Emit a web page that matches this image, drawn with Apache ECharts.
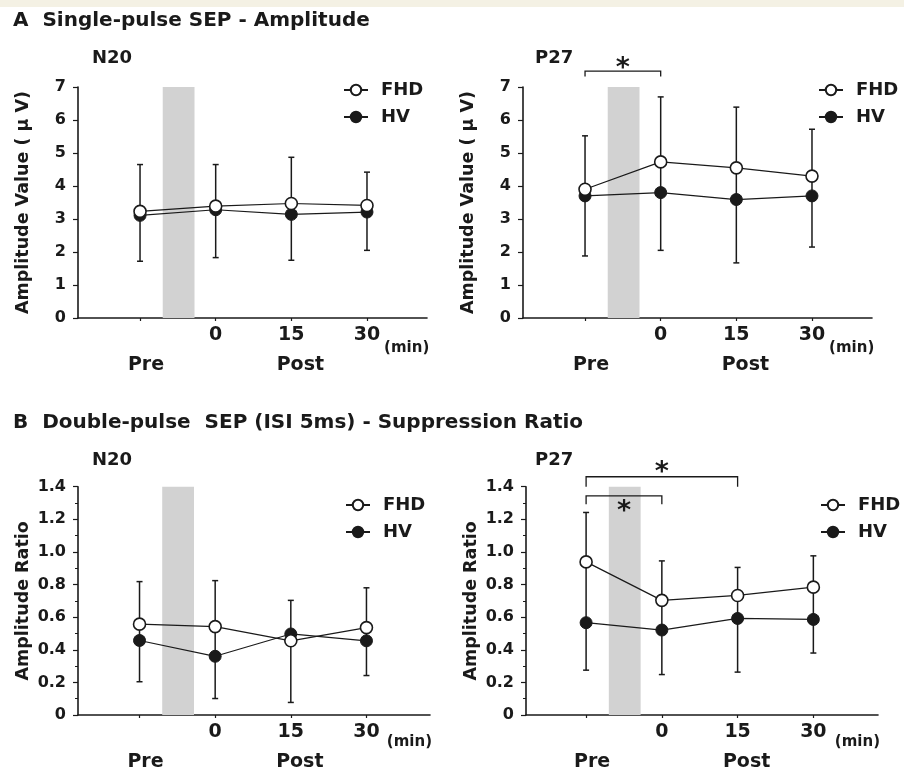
<!DOCTYPE html>
<html><head><meta charset="utf-8">
<script src="https://cdn.jsdelivr.net/npm/echarts@6/dist/echarts.min.js"></script>
<style>html,body{margin:0;padding:0;background:#fff}#c{width:904px;height:777px;background:linear-gradient(#f4f1e4 0,#f4f1e4 7px,#fff 7px)}</style>
</head><body><div id="c"></div><script>
// ---- data ----
const timeLabels = ['Pre', '0', '15', '30'];
const timeValues = [-15, 0, 15, 30];
const phaseLabels = ['Pre', 'Post'];
const groupNames = ['FHD', 'HV'];
const shadeRange = [-10.5, -4.2];

// A: single-pulse SEP amplitude (µV)
const aN20_FHD = [3.23, 3.39, 3.47, 3.41];
const aN20_HV = [3.11, 3.28, 3.14, 3.21];
const aN20_top = [4.65, 4.65, 4.87, 4.42];
const aN20_bottom = [1.72, 1.83, 1.75, 2.05];

const aP27_FHD = [3.90, 4.73, 4.55, 4.30];
const aP27_HV = [3.70, 3.80, 3.59, 3.70];
const aP27_top = [5.52, 6.70, 6.39, 5.72];
const aP27_bottom = [1.88, 2.05, 1.67, 2.15];

// B: double-pulse suppression ratio
const bN20_FHD = [0.557, 0.542, 0.455, 0.536];
const bN20_HV = [0.457, 0.360, 0.497, 0.455];
const bN20_top = [0.818, 0.824, 0.703, 0.780];
const bN20_bottom = [0.204, 0.101, 0.077, 0.242];

const bP27_FHD = [0.939, 0.703, 0.733, 0.784];
const bP27_HV = [0.566, 0.521, 0.592, 0.586];
const bP27_top = [1.242, 0.945, 0.905, 0.976];
const bP27_bottom = [0.275, 0.248, 0.263, 0.380];

// significance brackets: [from, to, level, end, star]
const aP27_sig = [[-15, 0, 7.48, 7.32, 7.56]];
const bP27_sig = [[-15, 15, 1.461, 1.40, 1.482], [-15, 0, 1.344, 1.293, 1.248]];

// ---- layout / style ----
const FF = "'DejaVu Sans', sans-serif";
const INK = '#1a1a1a';
const panels = [
  {grid:{left:78, top:87, width:349, height:231}, x:[-27.3, 41.9], yMax:7, yInt:1, minor:false,
   yName:'Amplitude Value ( \u03bc V)', fhd:aN20_FHD, hv:aN20_HV, top:aN20_top, bot:aN20_bottom, sig:null,
   legend:{left:343, top:81}, minPad:23},
  {grid:{left:523, top:87, width:349, height:231}, x:[-27.3, 41.9], yMax:7, yInt:1, minor:false,
   yName:'Amplitude Value ( \u03bc V)', fhd:aP27_FHD, hv:aP27_HV, top:aP27_top, bot:aP27_bottom, sig:aP27_sig,
   legend:{left:818, top:81}, minPad:23},
  {grid:{left:78, top:486.7, width:352, height:231}, x:[-27.2, 42.6], yMax:1.4, yInt:0.2, minor:true,
   yName:'Amplitude Ratio', fhd:bN20_FHD, hv:bN20_HV, top:bN20_top, bot:bN20_bottom, sig:null,
   legend:{left:345, top:496}, minPad:20},
  {grid:{left:526, top:486.7, width:352, height:231}, x:[-26.9, 42.8], yMax:1.4, yInt:0.2, minor:true,
   yName:'Amplitude Ratio', fhd:bP27_FHD, hv:bP27_HV, top:bP27_top, bot:bP27_bottom, sig:bP27_sig,
   legend:{left:820, top:496}, minPad:20}
];

function renderErr(params, api) {
  const x = api.value(0), lo = api.value(1), hi = api.value(2);
  const pLo = api.coord([x, lo]), pHi = api.coord([x, hi]);
  const w = 3, st = {stroke: INK, lineWidth: 1.5};
  return {type:'group', children:[
    {type:'line', shape:{x1:pLo[0], y1:pLo[1], x2:pHi[0], y2:pHi[1]}, style:st},
    {type:'line', shape:{x1:pHi[0]-w, y1:pHi[1], x2:pHi[0]+w, y2:pHi[1]}, style:st},
    {type:'line', shape:{x1:pLo[0]-w, y1:pLo[1], x2:pLo[0]+w, y2:pLo[1]}, style:st}
  ]};
}
function renderBracket(params, api) {
  const x1 = api.value(0), x2 = api.value(1), lvl = api.value(2), end = api.value(3), sy = api.value(4);
  const a = api.coord([x1, end]), b = api.coord([x1, lvl]), c = api.coord([x2, lvl]), d = api.coord([x2, end]);
  const s = api.coord([(x1 + x2) / 2, sy]);
  return {type:'group', children:[
    {type:'polyline', shape:{points:[a, b, c, d]}, style:{stroke:INK, lineWidth:1.3, fill:null}},
    {type:'text', x:s[0], y:s[1], style:{text:'*', fontSize:27, fontWeight:'bold', fontFamily:FF,
      fill:INK, align:'center', verticalAlign:'middle'}}
  ]};
}
function xFmt(v) {
  const i = timeValues.indexOf(v);
  if (i === 0) return ' \n{c|' + phaseLabels[0] + '}';
  if (i === 2) return timeLabels[i] + '\n{p|' + phaseLabels[1] + '}';
  return timeLabels[i];
}

const option = {
  animation: false,
  backgroundColor: 'transparent',
  textStyle: {fontFamily: FF},
  title: [
    {text:'A  Single-pulse SEP - Amplitude', left:13, top:11},
    {text:'N20', left:92, top:49},
    {text:'P27', left:535, top:49},
    {text:'B  Double-pulse  SEP (ISI 5ms) - Suppression Ratio', left:13, top:413},
    {text:'N20', left:92, top:451},
    {text:'P27', left:535, top:451}
  ].map((t, i) => Object.assign(t, {padding:0, textStyle:{fontFamily:FF, fontWeight:'bold', color:INK,
      fontSize:(i % 3 === 0) ? 20 : 18}})),
  legend: panels.map(p => ({
    data: groupNames, orient:'vertical', left:p.legend.left, top:p.legend.top, padding:0,
    itemWidth:24, itemHeight:13, itemGap:9, selectedMode:false,
    textStyle:{fontFamily:FF, fontWeight:'bold', fontSize:18, color:INK, lineHeight:18, padding:[0,0,0,8]}
  })),
  grid: panels.map(p => Object.assign({containLabel:false}, p.grid)),
  xAxis: panels.map((p, i) => ({
    type:'value', gridIndex:i, min:p.x[0], max:p.x[1], splitLine:{show:false},
    axisLine:{show:true, onZero:false, lineStyle:{color:INK, width:1.6}},
    axisTick:{show:true, customValues:timeValues, length:3, lineStyle:{color:INK, width:1.2}},
    axisLabel:{customValues:timeValues, formatter:xFmt, margin:2, fontSize:19, fontWeight:'bold',
      fontFamily:FF, color:INK, lineHeight:30,
      rich:{c:{fontSize:19, fontWeight:'bold', fontFamily:FF, color:INK, lineHeight:30, padding:[0,0,0,12]},
            p:{fontSize:19, fontWeight:'bold', fontFamily:FF, color:INK, lineHeight:30, padding:[0,0,0,18]}}},
    name:'(min)', nameLocation:'end', nameGap:2,
    nameTextStyle:{align:'right', verticalAlign:'top', padding:[p.minPad,0,0,0], fontSize:15,
      fontWeight:'bold', fontFamily:FF, color:INK}
  })),
  yAxis: panels.map((p, i) => ({
    type:'value', gridIndex:i, min:0, max:p.yMax, interval:p.yInt, splitLine:{show:false},
    axisLine:{show:true, onZero:false, lineStyle:{color:INK, width:1.6}},
    axisTick:{show:true, length:5, lineStyle:{color:INK, width:1.2}},
    minorTick:{show:p.minor, splitNumber:2, length:3, lineStyle:{color:INK, width:1}},
    axisLabel:{margin:12, fontSize:16, fontWeight:'bold', fontFamily:FF, color:INK,
      formatter: v => (p.yInt < 1 && v !== 0) ? v.toFixed(1) : String(v)},
    name:p.yName, nameLocation:'middle', nameGap:46, nameRotate:90,
    nameTextStyle:{fontSize:17.5, fontWeight:'bold', fontFamily:FF, color:INK}
  })),
  series: []
};

panels.forEach((p, i) => {
  option.series.push({
    type:'line', xAxisIndex:i, yAxisIndex:i, data:[], z:0, silent:true,
    markArea:{silent:true, itemStyle:{color:'#d2d2d2'}, data:[[{xAxis:shadeRange[0]}, {xAxis:shadeRange[1]}]]}
  });
  option.series.push({
    type:'custom', xAxisIndex:i, yAxisIndex:i, z:1, silent:true, clip:false,
    renderItem:renderErr, encode:{x:0, y:[1, 2]},
    data: timeValues.map((t, k) => [t, p.bot[k], p.top[k]])
  });
  option.series.push({
    name:'HV', type:'line', xAxisIndex:i, yAxisIndex:i, z:3, symbol:'circle', symbolSize:12,
    lineStyle:{color:INK, width:1.2}, itemStyle:{color:INK, borderColor:INK, borderWidth:1},
    emphasis:{disabled:true}, data: timeValues.map((t, k) => [t, p.hv[k]])
  });
  option.series.push({
    name:'FHD', type:'line', xAxisIndex:i, yAxisIndex:i, z:4, symbol:'circle', symbolSize:12,
    lineStyle:{color:INK, width:1.2}, itemStyle:{color:'#ffffff', borderColor:INK, borderWidth:1.6},
    emphasis:{disabled:true}, data: timeValues.map((t, k) => [t, p.fhd[k]])
  });
  if (p.sig) {
    option.series.push({
      type:'custom', xAxisIndex:i, yAxisIndex:i, z:5, silent:true, clip:false,
      renderItem:renderBracket, encode:{x:[0, 1], y:[2, 3, 4]}, data:p.sig
    });
  }
});

const chart = echarts.init(document.getElementById('c'));
chart.setOption(option);
</script></body></html>
